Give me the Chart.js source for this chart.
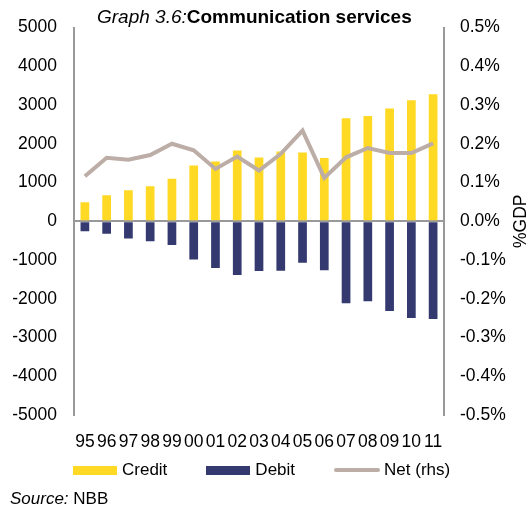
<!DOCTYPE html>
<html>
<head>
<meta charset="utf-8">
<script src="https://cdn.jsdelivr.net/npm/chart.js@4"></script>
<style>
  body { margin: 0; background: #fff; font-family: "Liberation Sans", Arial, sans-serif; }
  .wrap { position: relative; width: 527px; height: 511px; }
  canvas { position: absolute; left: 0; top: 0; }
  #title { position: absolute; left: 97px; top: 6px; font-size: 19px; color: #000; white-space: nowrap; }
  #legend { position: absolute; left: 73px; top: 459px; display: flex; gap: 39px; margin: 0; padding: 0; list-style: none; font-size: 17px; color: #000; }
  #legend li { display: flex; align-items: center; height: 22px; }
  #legend .box { width: 44px; height: 9px; margin-right: 5px; }
  #legend .line { width: 46px; height: 4px; border-radius: 2px; margin-right: 4px; }
  #source { position: absolute; left: 10px; top: 489px; font-size: 17px; color: #000; }
</style>
</head>
<body>
<div class="wrap">
  <canvas id="chart" width="527" height="511"></canvas>
  <div id="title"><i>Graph 3.6:</i><b>Communication services</b></div>
  <ul id="legend"></ul>
  <div id="source"><i>Source:</i> NBB</div>
</div>
<script>
const years = ["95","96","97","98","99","00","01","02","03","04","05","06","07","08","09","10","11"];
const credit = [490, 670, 800, 905, 1100, 1440, 1540, 1825, 1645, 1800, 1775, 1630, 2655, 2715, 2910, 3120, 3275];
const debit = [-255, -325, -445, -515, -615, -985, -1205, -1385, -1285, -1280, -1070, -1265, -2115, -2065, -2315, -2495, -2525];
const net = [0.116, 0.164, 0.159, 0.171, 0.200, 0.183, 0.135, 0.167, 0.131, 0.174, 0.234, 0.112, 0.165, 0.189, 0.176, 0.176, 0.201];

const tickFont = { family: "Liberation Sans, Arial, sans-serif", size: 17.5 };
const axisGrey = "#999999";

// right-hand axis label, reads bottom to top
const rhsTitle = {
  id: "rhsTitle",
  afterDraw(chart) {
    const { ctx, chartArea } = chart;
    ctx.save();
    ctx.translate(521, (chartArea.top + chartArea.bottom) / 2);
    ctx.rotate(-Math.PI / 2);
    ctx.font = "17.5px 'Liberation Sans', Arial, sans-serif";
    ctx.fillStyle = "#000";
    ctx.textAlign = "center";
    ctx.textBaseline = "middle";
    ctx.fillText("%GDP", 0, 0);
    ctx.restore();
  }
};

const chart = new Chart(document.getElementById("chart"), {
  type: "bar",
  data: {
    labels: years,
    datasets: [
      {
        label: "Credit",
        data: credit,
        backgroundColor: "#FFD923",
        borderWidth: 0,
        yAxisID: "y",
        barPercentage: 0.4,
        categoryPercentage: 1
      },
      {
        label: "Debit",
        data: debit,
        backgroundColor: "#343A70",
        borderWidth: 0,
        yAxisID: "y",
        barPercentage: 0.4,
        categoryPercentage: 1
      },
      {
        type: "line",
        label: "Net (rhs)",
        data: net,
        borderColor: "#BCADA6",
        backgroundColor: "#BCADA6",
        borderWidth: 4,
        pointRadius: 0,
        pointHoverRadius: 0,
        tension: 0,
        yAxisID: "y1",
        order: -1
      }
    ]
  },
  options: {
    responsive: false,
    animation: false,
    layout: { padding: { top: 26, bottom: 60, left: 0, right: 0 } },
    scales: {
      x: {
        stacked: true,
        grid: { display: false },
        border: { display: false },
        ticks: { font: tickFont, color: "#000", padding: 9, maxRotation: 0, autoSkip: false },
        afterFit(scale) { scale.height = 36; }
      },
      y: {
        position: "left",
        stacked: true,
        min: -5000,
        max: 5000,
        z: 1,
        border: { display: true, color: axisGrey, width: 2 },
        grid: {
          drawTicks: false,
          lineWidth: 2,
          color: (c) => (c.tick && c.tick.value === 0 ? axisGrey : "rgba(0,0,0,0)")
        },
        ticks: { stepSize: 1000, font: tickFont, color: "#000", padding: 17, callback: (v) => String(v) },
        afterFit(scale) { scale.width = 74; }
      },
      y1: {
        position: "right",
        min: -0.5,
        max: 0.5,
        border: { display: true, color: axisGrey, width: 2 },
        grid: { display: false, drawTicks: false },
        ticks: { stepSize: 0.1, font: tickFont, color: "#000", padding: 16, callback: (v) => v.toFixed(1) + "%" },
        afterFit(scale) { scale.width = 83; }
      }
    },
    plugins: {
      legend: { display: false },
      tooltip: { enabled: false }
    }
  },
  plugins: [rhsTitle]
});

// legend built from the chart's own datasets
const ul = document.getElementById("legend");
chart.data.datasets.forEach((ds) => {
  const li = document.createElement("li");
  const cls = ds.type === "line" ? "line" : "box";
  li.innerHTML = `<span class="${cls}" style="background:${ds.backgroundColor}"></span>${ds.label}`;
  ul.appendChild(li);
});
</script>
</body>
</html>
